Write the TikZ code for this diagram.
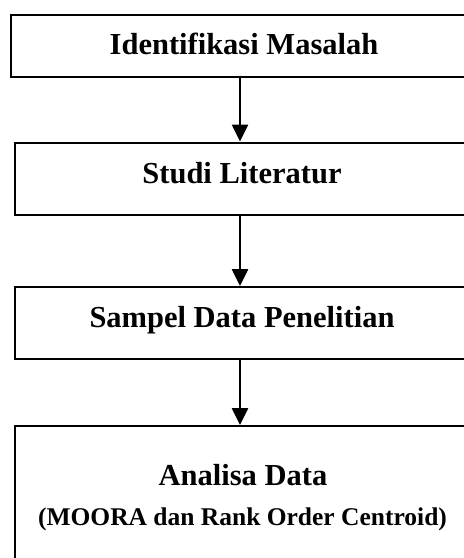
\documentclass[tikz,border=0pt]{standalone}
\usepackage{fontspec}
\setmainfont{Liberation Serif}
\usetikzlibrary{arrows.meta}
\tikzset{
  boxnode/.style={draw=black, line width=2.4pt, fill=white, rectangle, inner sep=0pt, anchor=north west},
  boxtext/.style={anchor=base, inner sep=0pt, font=\bfseries\fontsize{30.5}{36}\selectfont},
  subtext/.style={anchor=base, inner sep=0pt, font=\bfseries\fontsize{25.5}{30}\selectfont},
  flow/.style={draw=black, line width=2.6pt, -{Triangle[width=16pt,length=17pt]}, shorten >=0pt}
}
\begin{document}
\begin{tikzpicture}[x=1pt,y=-1pt]
  \useasboundingbox (0,0) rectangle (464,558);
  \fill[white] (0,0) rectangle (464,558);
  \clip (0,0) rectangle (464,558);
  % boxes
  \node[boxnode, minimum width=480pt, minimum height=62pt] (b1) at (10,13.5) {};
  \node[boxnode, minimum width=476pt, minimum height=72.5pt] (b2) at (14,141.5) {};
  \node[boxnode, minimum width=476pt, minimum height=72pt] (b3) at (14,286) {};
  \node[boxnode, minimum width=476pt, minimum height=160pt] (b4) at (14,425) {};
  % texts
  \node[boxtext] (t1) at (244,54) {Identifikasi Masalah};
  \node[boxtext] (t2) at (242,183) {Studi Literatur};
  \node[boxtext] (t3) at (242,327) {Sampel Data Penelitian};
  \node[boxtext] (t4) at (243,485) {Analisa Data};
  \node[subtext] (t5) at (242.5,525) {(MOORA dan Rank Order Centroid)};
  % connectors
  \coordinate (a1) at (240,75.5);
  \coordinate (a2) at (240,214);
  \coordinate (a3) at (240,358);
  \draw[flow] (a1) -- (a1 |- b2.north);
  \draw[flow] (a2) -- (a2 |- b3.north);
  \draw[flow] (a3) -- (a3 |- b4.north);
\end{tikzpicture}
\end{document}
